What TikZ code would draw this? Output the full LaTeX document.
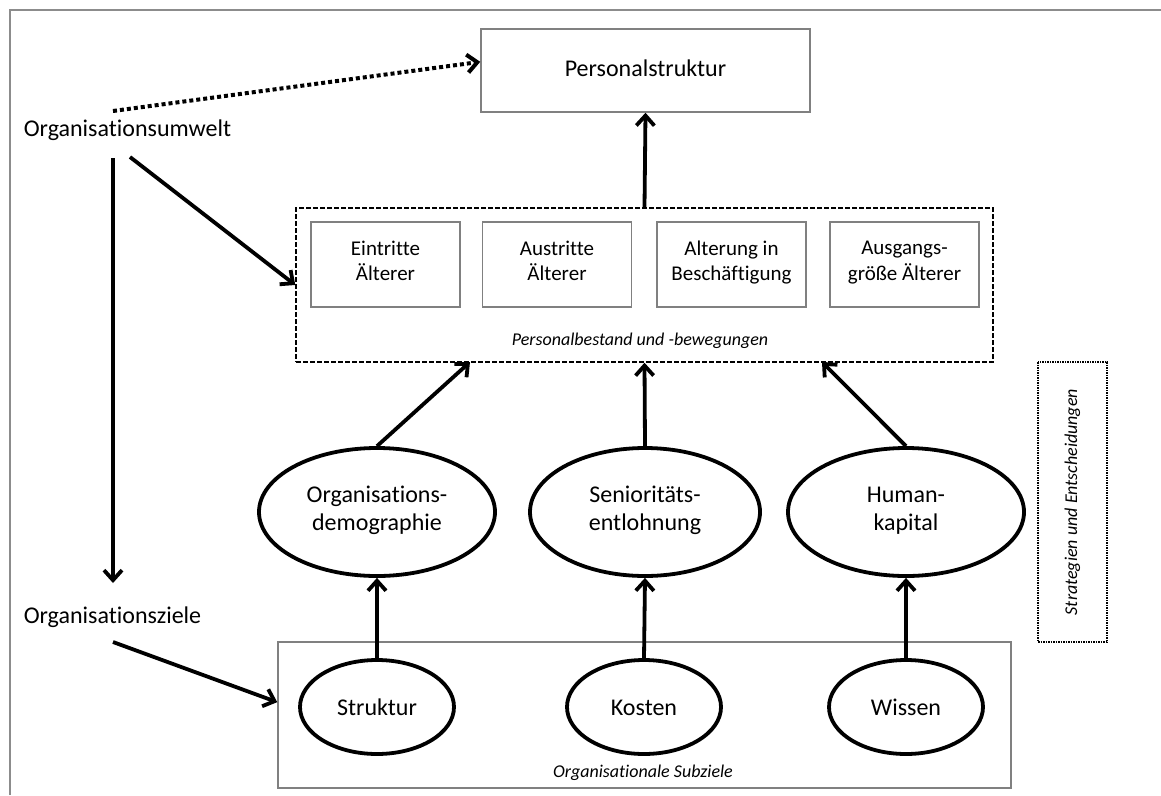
\documentclass[tikz,border=0pt]{standalone}
\usepackage{fontspec}
\setmainfont{Carlito}[Ligatures=NoCommon]
\usetikzlibrary{shapes.geometric,arrows.meta}

\begin{document}
\begin{tikzpicture}[x=1pt,y=-1pt,
    box/.style={draw=black!50,line width=1.5pt,align=center,inner sep=0pt,font=\fontsize{21}{25.6}\selectfont,
        execute at begin node=\strut,execute at end node=\strut},
    oval/.style={ellipse,draw,line width=3.8pt,align=center,inner sep=0pt,font=\fontsize{24}{28}\selectfont,
        execute at begin node=\rule{0pt}{0.85\baselineskip},execute at end node=\rule[-0.25\baselineskip]{0pt}{0pt}},
    lbl/.style={inner sep=0pt,font=\fontsize{24}{29}\selectfont},
    capt/.style={inner sep=0pt,font=\fontsize{18}{22}\selectfont\itshape},
    pfeil/.style={line width=3.8pt,-{Straight Barb[length=10pt,width=18pt]}}]
        \useasboundingbox (0,0) rectangle (1161,795);
        \draw[black!45,line width=1.5pt] (10,795) -- (10,10) -- (1161,10);
        % obere Ebene
        \node[box,minimum width=329,minimum height=83,font=\fontsize{24}{29}\selectfont] (pstruk) at (645.5,70.5) {Personalstruktur};
        \node[lbl] (umwelt) at (127.5,130) {Organisationsumwelt};
        \node[lbl] (ziele) at (112.5,617) {Organisationsziele};
        % Personalbestand
        \node[draw,dash pattern=on 5pt off 2pt,line width=1.5pt,minimum width=697,minimum height=154] (pbest) at (644.5,285) {};
        \node[box,minimum width=149,minimum height=85] (eintr) at (385.5,264.5) {Eintritte\\Älterer};
        \node[box,minimum width=149,minimum height=85] (austr) at (557,264.5) {Austritte\\Älterer};
        \node[box,minimum width=149,minimum height=85] (alter) at (731.5,264.5) {Alterung in\\Beschäftigung};
        \node[box,minimum width=149,minimum height=85] (ausg) at (904.5,264.5) {Ausgangs-\\größe Älterer};
        \node[capt] (pcap) at (640,341) {Personalbestand und -bewegungen};
        % Mechanismen
        \node[oval,minimum width=236,minimum height=128] (odem) at (377,512) {Organisations-\\demographie};
        \node[oval,minimum width=230,minimum height=128] (senio) at (645,512) {Senioritäts-\\entlohnung};
        \node[oval,minimum width=236,minimum height=128] (human) at (906,512) {Human-\\kapital};
        % Subziele
        \node[draw=black!50,line width=1.5pt,minimum width=733,minimum height=146] (subz) at (644.5,715) {};
        \node[capt] (scap) at (643,773) {Organisationale Subziele};
        \node[oval,minimum width=154,minimum height=94] (strukt) at (377,707) {Struktur};
        \node[oval,minimum width=154,minimum height=94] (kosten) at (644,707) {Kosten};
        \node[oval,minimum width=154,minimum height=94] (wissen) at (906,707) {Wissen};
        \node[draw,dash pattern=on 1.5pt off 1pt,line width=2pt,rotate=90,minimum width=280,minimum height=69,font=\fontsize{18}{22}\selectfont\itshape] (strat) at (1072.5,502) {Strategien und Entscheidungen};
        % Pfeile
        \coordinate (u1) at (113,111);
        \coordinate (u2) at (130,157);
        \coordinate (u3) at (113,158);
        \coordinate (z0) at (113,583);
        \coordinate (z1) at (113,642);
        \coordinate (pbA) at (470,362);
        \coordinate (pbC) at (822,362);
        \draw[pfeil,line width=4pt,dash pattern=on 4pt off 3pt] (u1) -- (pstruk.177);
        \draw[pfeil] (u2) -- (pbest.west);
        \draw[pfeil] (u3) -- (z0);
        \draw[pfeil] (z1) -- (subz.178);
        \draw[pfeil] (pbest.north) -- (pstruk.south);
        \draw[pfeil] (odem.north) -- (pbA);
        \draw[pfeil] (senio.north) -- (pbest.south);
        \draw[pfeil] (human.north) -- (pbC);
        \draw[pfeil] (strukt.north) -- (odem.south);
        \draw[pfeil] (kosten.north) -- (senio.south);
        \draw[pfeil] (wissen.north) -- (human.south);
    \end{tikzpicture}
\end{document}
